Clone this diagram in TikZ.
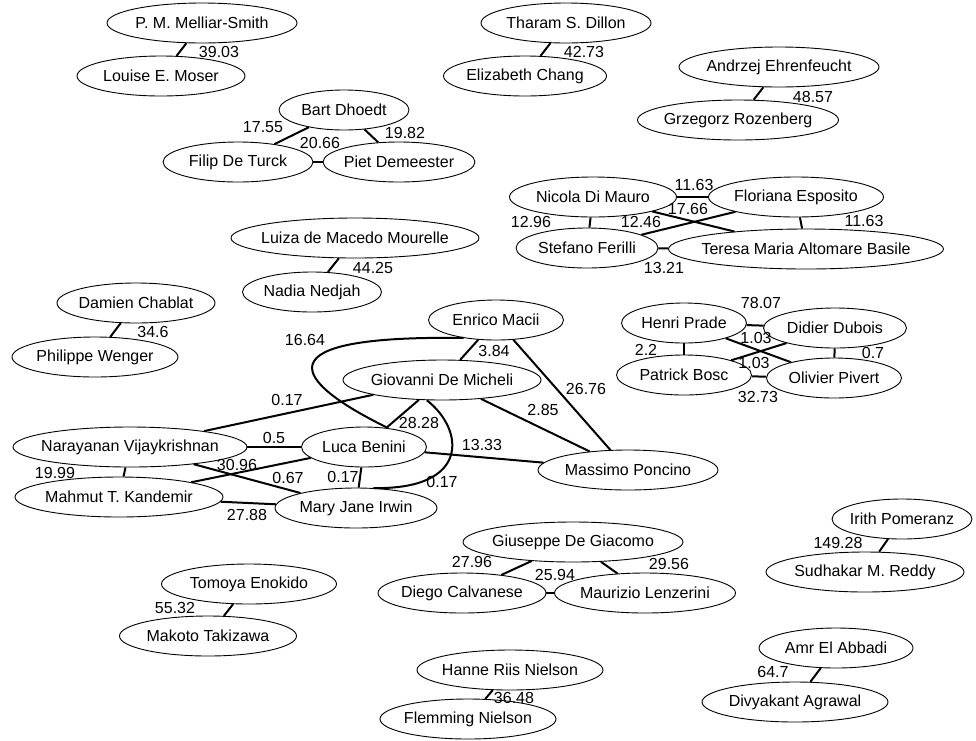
\documentclass[tikz,border=0pt]{standalone}
\usepackage{fontspec}
\setmainfont{Liberation Sans}
\usetikzlibrary{shapes.geometric}
\begin{document}
\begin{tikzpicture}[x=1pt,y=-1pt,
  person/.style={ellipse, draw, line width=0.9pt, inner sep=0pt, minimum height=40pt, font=\fontsize{16}{19}\selectfont},
  link/.style={line width=2pt},
  wt/.style={inner sep=0pt, font=\fontsize{16}{19}\selectfont}]
\fill[white] (0,0) rectangle (976,740);
\useasboundingbox (0,0) rectangle (976,740);
\newcommand\persnode[5]{\node[person, minimum width=#4pt] (#1) at (#2,#3) {\makebox[0pt]{#5}};}
\persnode{MS}{202}{23}{190}{P. M. Melliar-Smith}
\persnode{LM}{161}{76}{168}{Louise E. Moser}
\persnode{TD}{566}{23}{170}{Tharam S. Dillon}
\persnode{EC}{525}{76}{163}{Elizabeth Chang}
\persnode{AE}{779}{67}{200}{Andrzej Ehrenfeucht}
\persnode{GR}{738}{120}{201}{Grzegorz Rozenberg}
\persnode{BD}{344}{110}{130}{Bart Dhoedt}
\persnode{FT}{238}{162}{150}{Filip De Turck}
\persnode{PD}{399}{162}{152}{Piet Demeester}
\persnode{LMM}{355}{238}{248}{Luiza de Macedo Mourelle}
\persnode{NN}{312}{292}{139}{Nadia Nedjah}
\persnode{NDM}{593}{197}{167}{Nicola Di Mauro}
\persnode{FE}{796}{197}{175}{Floriana Esposito}
\persnode{SF}{587}{248}{142}{Stefano Ferilli}
\persnode{TMAB}{806}{249}{275}{Teresa Maria Altomare Basile}
\persnode{DC}{136}{303}{158}{Damien Chablat}
\persnode{PW}{95}{357}{166}{Philippe Wenger}
\persnode{EM}{496}{320}{135}{Enrico Macii}
\persnode{GDM}{442}{380}{198}{Giovanni De Micheli}
\persnode{HP}{684}{323}{125}{Henri Prade}
\persnode{DD}{835}{328}{143}{Didier Dubois}
\persnode{PB}{684}{375}{135}{Patrick Bosc}
\persnode{OP}{834}{378}{135}{Olivier Pivert}
\persnode{NV}{130}{447}{234}{Narayanan Vijaykrishnan}
\persnode{LB}{364}{447}{125}{Luca Benini}
\persnode{MP}{628}{470}{180}{Massimo Poncino}
\persnode{MTK}{119}{497}{208}{Mahmut T. Kandemir}
\persnode{MJI}{356}{508}{162}{Mary Jane Irwin}
\persnode{GDG}{573}{542}{220}{Giuseppe De Giacomo}
\persnode{DCa}{462}{593}{168}{Diego Calvanese}
\persnode{ML}{645}{593}{181}{Maurizio Lenzerini}
\persnode{IP}{902}{519}{140}{Irith Pomeranz}
\persnode{SMR}{865}{572}{198}{Sudhakar M. Reddy}
\persnode{TE}{249}{584}{175}{Tomoya Enokido}
\persnode{MT}{208}{636}{177}{Makoto Takizawa}
\persnode{HRN}{510}{670}{186}{Hanne Riis Nielson}
\persnode{FN}{468}{719}{176}{Flemming Nielson}
\persnode{AEA}{836}{648}{154}{Amr El Abbadi}
\persnode{DA}{795}{702}{186}{Divyakant Agrawal}
% edges
\draw[link] (MS) -- (LM);
\draw[link] (TD) -- (EC);
\draw[link] (AE) -- (GR);
\draw[link] (BD) -- (FT);
\draw[link] (BD) -- (PD);
\draw[link] (FT) -- (PD);
\draw[link] (LMM) -- (NN);
\draw[link] (NDM) -- (FE);
\draw[link] (NDM) -- (SF);
\draw[link] (NDM) -- (TMAB);
\draw[link] (FE) -- (SF);
\draw[link] (FE) -- (TMAB);
\draw[link] (SF) -- (TMAB);
\draw[link] (DC) -- (PW);
\draw[link] (HP) -- (DD);
\draw[link] (HP) -- (PB);
\draw[link] (HP) -- (OP);
\draw[link] (DD) -- (PB);
\draw[link] (DD) -- (OP);
\draw[link] (PB) -- (OP);
\draw[link] (EM) -- (GDM);
\draw[link] (EM) -- (MP);
\draw[link] (EM.209) .. controls (260,335) and (290,380) .. (LB.38);
\draw[link] (GDM) -- (NV);
\draw[link] (GDM) -- (LB);
\draw[link] (GDM) -- (MP);
\draw[link] (GDM.233) .. controls (465,430) and (470,490) .. (MJI.49);
\draw[link] (NV) -- (LB);
\draw[link] (NV) -- (MTK);
\draw[link] (NV) -- (MJI);
\draw[link] (LB) -- (MTK);
\draw[link] (LB) -- (MJI);
\draw[link] (LB) -- (MP);
\draw[link] (MTK) -- (MJI);
\draw[link] (TE) -- (MT);
\draw[link] (GDG) -- (DCa);
\draw[link] (GDG) -- (ML);
\draw[link] (DCa) -- (ML);
\draw[link] (IP) -- (SMR);
\draw[link] (AEA) -- (DA);
\draw[link] (HRN) -- (FN);
% weights
\node[wt] (w1) at (219,52) {39.03};
\node[wt] (w2) at (584,52) {42.73};
\node[wt] (w3) at (813,97) {48.57};
\node[wt] (w4) at (263,127) {17.55};
\node[wt] (w5) at (320,143) {20.66};
\node[wt] (w6) at (405,133) {19.82};
\node[wt] (w7) at (373,268) {44.25};
\node[wt] (w8) at (694,185) {11.63};
\node[wt] (w9) at (688,209) {17.66};
\node[wt] (w10) at (531,222) {12.96};
\node[wt] (w11) at (641,222) {12.46};
\node[wt] (w12) at (864,221) {11.63};
\node[wt] (w13) at (664,268) {13.21};
\node[wt] (w14) at (153,332) {34.6};
\node[wt] (w15) at (305,340) {16.64};
\node[wt] (w16) at (494,351) {3.84};
\node[wt] (w17) at (761,303) {78.07};
\node[wt] (w18) at (756,338) {1.03};
\node[wt] (w19) at (646,350) {2.2};
\node[wt] (w20) at (873,353) {0.7};
\node[wt] (w21) at (754,363) {1.03};
\node[wt] (w22) at (758,397) {32.73};
\node[wt] (w23) at (586,389) {26.76};
\node[wt] (w24) at (287,400) {0.17};
\node[wt] (w25) at (543,410) {2.85};
\node[wt] (w26) at (419,423) {28.28};
\node[wt] (w27) at (274,438) {0.5};
\node[wt] (w28) at (482,445) {13.33};
\node[wt] (w29) at (237,465) {30.96};
\node[wt] (w30) at (55,473) {19.99};
\node[wt] (w31) at (288,478) {0.67};
\node[wt] (w32) at (343,477) {0.17};
\node[wt] (w33) at (442,482) {0.17};
\node[wt] (w34) at (247,515) {27.88};
\node[wt] (w35) at (472,562) {27.96};
\node[wt] (w36) at (555,575) {25.94};
\node[wt] (w37) at (669,564) {29.56};
\node[wt] (w38) at (838,543) {149.28};
\node[wt] (w39) at (175,608) {55.32};
\node[wt] (w40) at (773,672) {64.7};
\node[wt] (w41) at (514,698) {36.48};
\end{tikzpicture}
\end{document}
